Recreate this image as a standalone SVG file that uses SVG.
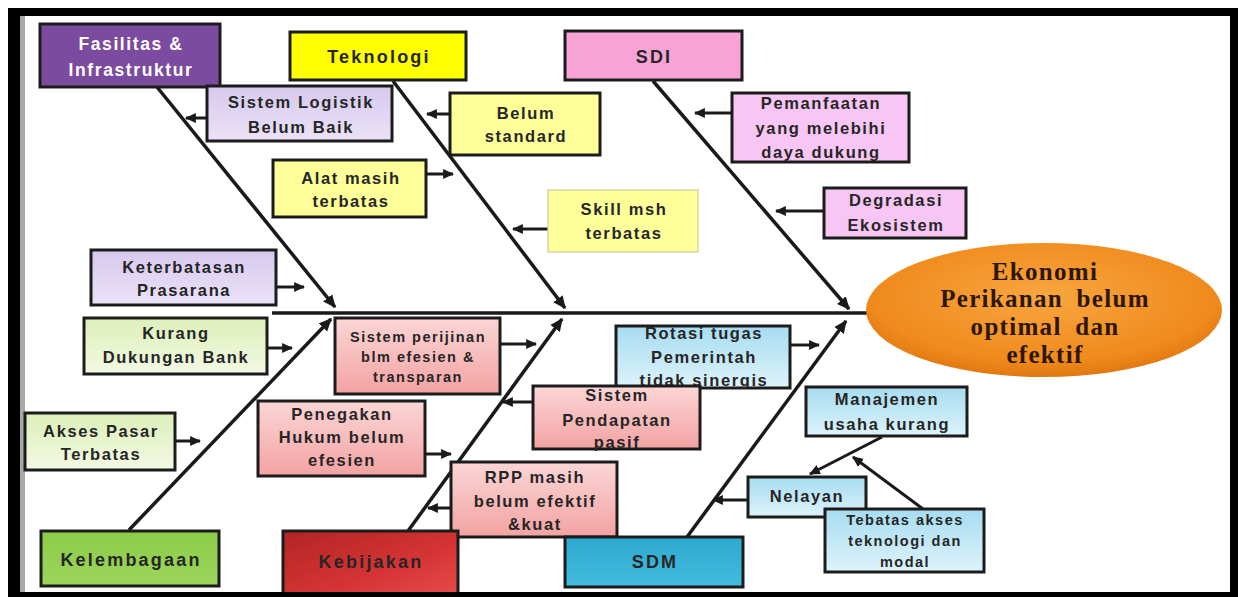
<svg xmlns="http://www.w3.org/2000/svg" width="1238" height="597" viewBox="0 0 1238 597">
<defs>
<style>
.box{stroke:#1c1c1c;stroke-width:3}
.t{font-family:"Liberation Sans",Arial,sans-serif;font-weight:bold;font-size:16.5px;letter-spacing:1.6px;fill:#262626;text-anchor:middle}
.ts{font-size:14.5px;letter-spacing:1.5px}
.w{fill:#ffffff;font-size:17.5px}
.big{font-size:18px;letter-spacing:2.2px}
.bone{stroke:#1a1a1a;stroke-width:3.5;fill:none}
.arr{stroke:#1a1a1a;stroke-width:3;fill:none}
.et{font-family:"Liberation Serif","Times New Roman",serif;font-weight:bold;font-size:25px;letter-spacing:1.3px;word-spacing:6px;fill:#2e1604;text-anchor:middle}
</style>
<marker id="ah" viewBox="0 0 10 10" refX="9" refY="5" markerWidth="13" markerHeight="13" markerUnits="userSpaceOnUse" orient="auto"><path d="M0,0.5 L10,5 L0,9.5 z" fill="#1a1a1a"/></marker>
<marker id="ahs" viewBox="0 0 10 10" refX="9" refY="5" markerWidth="11" markerHeight="11" markerUnits="userSpaceOnUse" orient="auto"><path d="M0,0.5 L10,5 L0,9.5 z" fill="#1a1a1a"/></marker>
<linearGradient id="gLav" x1="0" y1="0" x2="0" y2="1"><stop offset="0" stop-color="#d6c8ee"/><stop offset="1" stop-color="#ebe3f7"/></linearGradient>
<linearGradient id="gGrn" x1="0" y1="0" x2="0" y2="1"><stop offset="0" stop-color="#dcefb8"/><stop offset="1" stop-color="#f3f9e4"/></linearGradient>
<linearGradient id="gRed" x1="0" y1="0" x2="0" y2="1"><stop offset="0" stop-color="#fbd6d6"/><stop offset="1" stop-color="#f3a2a2"/></linearGradient>
<linearGradient id="gBlu" x1="0" y1="0" x2="0" y2="1"><stop offset="0" stop-color="#a6dcf0"/><stop offset="1" stop-color="#def3fb"/></linearGradient>
<linearGradient id="gKeb" x1="0" y1="0" x2="1" y2="1"><stop offset="0" stop-color="#b32424"/><stop offset="0.6" stop-color="#d53434"/><stop offset="1" stop-color="#e64a4a"/></linearGradient>
<linearGradient id="gSdm" x1="0" y1="0" x2="0" y2="1"><stop offset="0" stop-color="#2ea9d0"/><stop offset="1" stop-color="#43bbdd"/></linearGradient>
<linearGradient id="gKel" x1="0" y1="0" x2="0" y2="1"><stop offset="0" stop-color="#8ccb48"/><stop offset="1" stop-color="#9cd65c"/></linearGradient>
<radialGradient id="gEll" cx="0.5" cy="0.4" r="0.6"><stop offset="0" stop-color="#f8a640"/><stop offset="0.8" stop-color="#f08a1c"/><stop offset="1" stop-color="#e07810"/></radialGradient>
</defs>
<rect x="0" y="0" width="1238" height="597" fill="#ffffff"/>
<rect x="8" y="8" width="1230" height="589" fill="#000000"/>
<rect x="20" y="16" width="1210" height="576" fill="#ffffff"/>
<rect x="20" y="16" width="5" height="576" fill="#a8a8a8"/>

<g id="connectors">
<line class="bone" x1="272" y1="313" x2="870" y2="313"/>
<line class="bone" x1="157" y1="87" x2="335" y2="307" marker-end="url(#ah)"/>
<line class="bone" x1="393" y1="81" x2="565" y2="308" marker-end="url(#ah)"/>
<line class="bone" x1="653" y1="81" x2="849" y2="309" marker-end="url(#ah)"/>
<line class="bone" x1="129" y1="530" x2="331" y2="319" marker-end="url(#ah)"/>
<line class="bone" x1="408" y1="531" x2="562" y2="319" marker-end="url(#ah)"/>
<line class="bone" x1="687" y1="537" x2="846" y2="321" marker-end="url(#ah)"/>
<line class="arr" x1="207" y1="118" x2="186" y2="118" marker-end="url(#ahs)"/>
<line class="arr" x1="450" y1="114" x2="427" y2="114" marker-end="url(#ahs)"/>
<line class="arr" x1="426" y1="174" x2="453" y2="174" marker-end="url(#ahs)"/>
<line class="arr" x1="732" y1="113" x2="695" y2="113" marker-end="url(#ahs)"/>
<line class="arr" x1="548" y1="229" x2="513" y2="229" marker-end="url(#ahs)"/>
<line class="arr" x1="824" y1="211" x2="776" y2="211" marker-end="url(#ahs)"/>
<line class="arr" x1="276" y1="287" x2="304" y2="287" marker-end="url(#ahs)"/>
<line class="arr" x1="267" y1="348" x2="292" y2="348" marker-end="url(#ahs)"/>
<line class="arr" x1="500" y1="344" x2="536" y2="344" marker-end="url(#ahs)"/>
<line class="arr" x1="790" y1="345" x2="819" y2="345" marker-end="url(#ahs)"/>
<line class="arr" x1="533" y1="402" x2="503" y2="402" marker-end="url(#ahs)"/>
<line class="arr" x1="425" y1="454" x2="451" y2="454" marker-end="url(#ahs)"/>
<line class="arr" x1="175" y1="441" x2="200" y2="441" marker-end="url(#ahs)"/>
<line class="arr" x1="451" y1="508" x2="428" y2="508" marker-end="url(#ahs)"/>
<line class="arr" x1="748" y1="500" x2="713" y2="500" marker-end="url(#ahs)"/>
<line class="arr" x1="882" y1="437" x2="810" y2="474" marker-end="url(#ahs)"/>
<line class="arr" x1="923" y1="509" x2="853" y2="457" marker-end="url(#ahs)"/>
</g>

<g id="fasilitas"><rect class="box" x="40" y="24" width="180" height="63" fill="#7a4b9e"/><text class="t w" x="131" y="50">Fasilitas &amp;</text><text class="t w" x="131" y="76">Infrastruktur</text></g>
<g id="teknologi"><rect class="box" x="290" y="32" width="176" height="48" fill="#ffff00"/><text class="t big" x="379" y="63">Teknologi</text></g>
<g id="sdi"><rect class="box" x="565" y="31" width="177" height="49" fill="#f7a3d6"/><text class="t big" x="654" y="63">SDI</text></g>
<g id="logistik"><rect class="box" x="207" y="86" width="185" height="55" fill="url(#gLav)"/><text class="t" x="301" y="108">Sistem Logistik</text><text class="t" x="301" y="133">Belum Baik</text></g>
<g id="belum-standard"><rect class="box" x="450" y="93" width="150" height="62" fill="#ffff99"/><text class="t" x="526" y="119">Belum</text><text class="t" x="526" y="142">standard</text></g>
<g id="pemanfaatan"><rect class="box" x="732" y="93" width="177" height="69" fill="#f7c6f4"/><text class="t" x="821" y="109">Pemanfaatan</text><text class="t" x="821" y="134">yang melebihi</text><text class="t" x="821" y="158">daya dukung</text></g>
<g id="alat"><rect class="box" x="273" y="160" width="153" height="57" fill="#ffff99"/><text class="t" x="351" y="184">Alat masih</text><text class="t" x="351" y="207">terbatas</text></g>
<g id="skill"><rect x="548" y="190" width="150" height="62" fill="#ffff99" stroke="#d6d6a8" stroke-width="1.5"/><text class="t" x="624" y="215">Skill msh</text><text class="t" x="624" y="239">terbatas</text></g>
<g id="degradasi"><rect class="box" x="824" y="188" width="142" height="50" fill="#f7c6f4"/><text class="t" x="896" y="206">Degradasi</text><text class="t" x="896" y="231">Ekosistem</text></g>
<g id="prasarana"><rect class="box" x="91" y="250" width="185" height="55" fill="url(#gLav)"/><text class="t" x="184" y="273">Keterbatasan</text><text class="t" x="184" y="296">Prasarana</text></g>
<g id="bank"><rect class="box" x="84" y="318" width="183" height="56" fill="url(#gGrn)"/><text class="t" x="176" y="339">Kurang</text><text class="t" x="176" y="363">Dukungan Bank</text></g>
<g id="perijinan"><rect class="box" x="335" y="318" width="165" height="76" fill="url(#gRed)"/><text class="t ts" x="418" y="342">Sistem perijinan</text><text class="t ts" x="418" y="362">blm efesien &amp;</text><text class="t ts" x="418" y="382">transparan</text></g>
<g id="rotasi"><rect class="box" x="616" y="326" width="174" height="62" fill="url(#gBlu)"/><text class="t" x="704" y="339">Rotasi  tugas</text><text class="t" x="704" y="363">Pemerintah</text><text class="t" x="704" y="386">tidak sinergis</text></g>
<g id="pendapatan"><rect class="box" x="533" y="386" width="167" height="63" fill="url(#gRed)"/><text class="t" x="617" y="401">Sistem</text><text class="t" x="617" y="426">Pendapatan</text><text class="t" x="617" y="448">pasif</text></g>
<g id="penegakan"><rect class="box" x="258" y="401" width="167" height="75" fill="url(#gRed)"/><text class="t" x="342" y="420">Penegakan</text><text class="t" x="342" y="443">Hukum belum</text><text class="t" x="342" y="466">efesien</text></g>
<g id="akses-pasar"><rect class="box" x="25" y="413" width="150" height="57" fill="url(#gGrn)"/><text class="t" x="101" y="437">Akses Pasar</text><text class="t" x="101" y="460">Terbatas</text></g>
<g id="rpp"><rect class="box" x="451" y="462" width="166" height="75" fill="url(#gRed)"/><text class="t" x="535" y="483">RPP masih</text><text class="t" x="535" y="507">belum efektif</text><text class="t" x="535" y="530">&amp;kuat</text></g>
<g id="manajemen"><rect class="box" x="806" y="387" width="161" height="49" fill="url(#gBlu)"/><text class="t" x="887" y="405">Manajemen</text><text class="t" x="887" y="430">usaha kurang</text></g>
<g id="nelayan"><rect class="box" x="748" y="477" width="118" height="40" fill="url(#gBlu)"/><text class="t" x="807" y="502">Nelayan</text></g>
<g id="tebatas"><rect class="box" x="825" y="509" width="159" height="63" fill="url(#gBlu)"/><text class="t ts" x="905" y="525">Tebatas akses</text><text class="t ts" x="905" y="546">teknologi dan</text><text class="t ts" x="905" y="567">modal</text></g>
<g id="kelembagaan"><rect class="box" x="41" y="531" width="178" height="55" fill="url(#gKel)"/><text class="t big" x="131" y="566">Kelembagaan</text></g>
<g id="kebijakan"><rect class="box" x="283" y="531" width="175" height="63" fill="url(#gKeb)"/><text class="t big" x="371" y="568">Kebijakan</text></g>
<g id="sdm"><rect class="box" x="565" y="537" width="178" height="50" fill="url(#gSdm)"/><text class="t big" x="655" y="568">SDM</text></g>
<g id="ekonomi"><ellipse cx="1044" cy="310" rx="178" ry="67" fill="url(#gEll)"/><text class="et" x="1045" y="280">Ekonomi</text><text class="et" x="1045" y="307">Perikanan belum</text><text class="et" x="1045" y="335">optimal dan</text><text class="et" x="1045" y="363">efektif</text></g>
<rect x="8" y="592" width="1230" height="5" fill="#000000"/>
</svg>
